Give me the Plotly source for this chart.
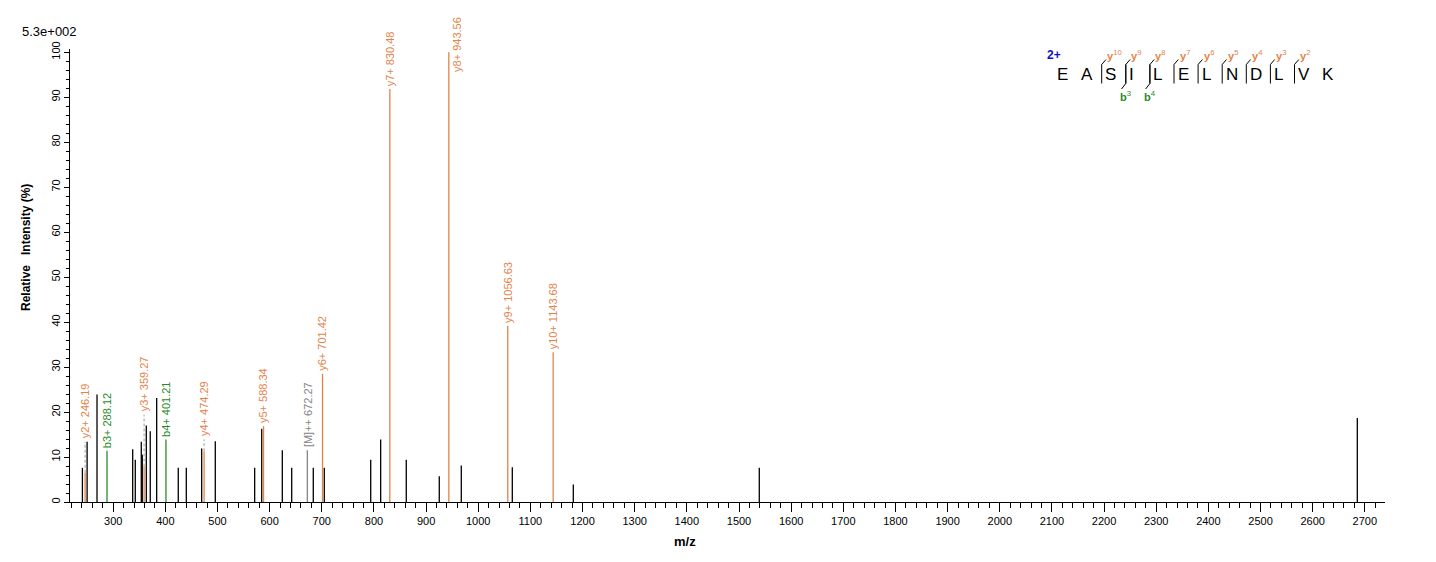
import plotly.graph_objects as go

# ---------------- data ----------------
# unannotated peaks (black)
other_mz = [241.0, 250.0, 269.0, 337.4, 342.4, 353.9, 355.8, 363.5, 371.1, 383.4,
            424.8, 440.2, 469.7, 495.8, 571.3, 584.8, 624.3, 642.3, 683.7, 704.8,
            793.8, 812.9, 862.0, 925.3, 967.5, 1065.3, 1182.3, 1538.9, 2685.6]
other_int = [7.6, 13.4, 23.9, 11.7, 9.4, 13.4, 10.5, 17.0, 15.7, 23.1,
             7.6, 7.6, 11.9, 13.5, 7.6, 16.3, 11.5, 7.6, 7.6, 7.6,
             9.4, 13.9, 9.4, 5.7, 8.1, 7.7, 3.9, 7.6, 18.7]

# annotated fragment ions
ion_names = ["y2+", "b3+", "y3+", "b4+", "y4+", "y5+", "[M]++", "y6+", "y7+", "y8+", "y9+", "y10+"]
ion_mz = [246.19, 288.12, 359.27, 401.21, 474.29, 588.34, 672.27, 701.42, 830.48, 943.56, 1056.63, 1143.68]
ion_int = [6.5, 11.4, 7.9, 13.9, 11.3, 16.9, 11.5, 28.5, 91.8, 100.0, 39.2, 33.3]
ion_kind = ["y", "b", "y", "b", "y", "y", "M", "y", "y", "y", "y", "y"]

# peptide sequence and matched ions
peptide = list("EASILELNDLVK")
charge = "2+"
y_ions = [10, 9, 8, 7, 6, 5, 4, 3, 2]
b_ions = [3, 4]

scale_text = "5.3e+002"
x_title = "m/z"
y_title = "Relative   Intensity (%)"

# ---------------- style / layout ----------------
COL = {"y": "#E3834C", "b": "#2A8A2A", "M": "#858585", "other": "#000000"}
FONT = "Liberation Sans, Arial, sans-serif"
OFF = 8  # page body margin
W, H = 1436 - OFF, 562 - OFF
ML, MR, MT, MB = 70 - OFF, 51, 49 - OFF, 60
X_RANGE = [217.2, 2738.7]
Y_RANGE = [0, 100.7]
# label placement (level in % where label starts when raised above neighbours)
label_level = {"y2+": 13.4, "y3+": 19.4, "y4+": 13.9}
beside_label = {"y8+": 95.0}

pw = W - ML - MR
ph = H - MT - MB


def px_x(px):
    return (px - OFF - ML) / pw


def px_y(py):
    return (H + OFF - MB - py) / ph


def stems(xs, ys):
    X, Y = [], []
    for x, y in zip(xs, ys):
        X += [x, x, None]
        Y += [0, y, None]
    return X, Y


fig = go.Figure()

sx, sy = stems(other_mz, other_int)
fig.add_trace(go.Scatter(x=sx, y=sy, mode="lines", line=dict(color=COL["other"], width=1.3),
                         hoverinfo="skip", showlegend=False))
for kind in ["y", "b", "M"]:
    xs = [m for m, k in zip(ion_mz, ion_kind) if k == kind]
    ys = [i for i, k in zip(ion_int, ion_kind) if k == kind]
    sx, sy = stems(xs, ys)
    fig.add_trace(go.Scatter(x=sx, y=sy, mode="lines", line=dict(color=COL[kind], width=1.3),
                             hoverinfo="skip", showlegend=False))

# dashed connectors for raised labels
cx, cy = [], []
for name, mz, it in zip(ion_names, ion_mz, ion_int):
    if name in label_level:
        cx += [mz, mz, None]
        cy += [it, label_level[name], None]
fig.add_trace(go.Scatter(x=cx, y=cy, mode="lines", line=dict(color="#A0A0A0", width=1, dash="3px,2px"),
                         hoverinfo="skip", showlegend=False))

annotations = []
for name, mz, it, kind in zip(ion_names, ion_mz, ion_int, ion_kind):
    text = f"{name} {mz:.2f}"
    if name in beside_label:
        y, xs = beside_label[name], 8
    else:
        y, xs = label_level.get(name, it), 0
    annotations.append(dict(x=mz, y=y, xref="x", yref="y", text=text, showarrow=False,
                            textangle=-90, xanchor="center", yanchor="bottom", xshift=xs, yshift=1,
                            font=dict(family=FONT, size=11, color=COL[kind])))

# scale label and titles
annotations.append(dict(x=px_x(20), y=px_y(31), xref="paper", yref="paper", text=scale_text,
                        showarrow=False, xanchor="left", yanchor="middle",
                        font=dict(family=FONT, size=13, color="#000")))
annotations.append(dict(x=px_x(26), y=px_y(248), xref="paper", yref="paper", text=f"<b>{y_title}</b>",
                        showarrow=False, textangle=-90, xanchor="center", yanchor="middle",
                        font=dict(family=FONT, size=12, color="#000")))
annotations.append(dict(x=px_x(685), y=px_y(541), xref="paper", yref="paper", text=f"<b>{x_title}</b>",
                        showarrow=False, xanchor="center", yanchor="middle",
                        font=dict(family=FONT, size=13, color="#000")))

# peptide sequence diagram
BX0, BDX = 1053.5, 24.1
n = len(peptide)


def bx(k):
    return BX0 + BDX * k


annotations.append(dict(x=px_x(1045), y=px_y(55), xref="paper", yref="paper", text=f"<b>{charge}</b>",
                        showarrow=False, xanchor="left", yanchor="middle",
                        font=dict(family=FONT, size=12, color="#1010C0")))
for i, aa in enumerate(peptide):
    annotations.append(dict(x=px_x(bx(i) + 1.5), y=px_y(75), xref="paper", yref="paper", text=aa,
                            showarrow=False, xanchor="left", yanchor="middle",
                            font=dict(family=FONT, size=17, color="#000")))

shapes = []
for yi in y_ions:
    k = n - yi
    x0 = bx(k)
    shapes.append(dict(type="line", xref="paper", yref="paper", x0=px_x(x0), x1=px_x(x0),
                       y0=px_y(64.5), y1=px_y(83.5), line=dict(color="#000", width=1)))
    shapes.append(dict(type="line", xref="paper", yref="paper", x0=px_x(x0), x1=px_x(x0 + 4.3),
                       y0=px_y(64.5), y1=px_y(59.5), line=dict(color="#000", width=1)))
    annotations.append(dict(x=px_x(x0 + 3.5), y=px_y(55), xref="paper", yref="paper",
                            text=f"<b>y</b><sup>{yi}</sup>", showarrow=False, xanchor="left",
                            yanchor="middle", font=dict(family=FONT, size=11, color=COL["y"])))
for bi in b_ions:
    x0 = bx(bi)
    shapes.append(dict(type="line", xref="paper", yref="paper", x0=px_x(x0), x1=px_x(x0),
                       y0=px_y(64.5), y1=px_y(83.5), line=dict(color="#000", width=1)))
    shapes.append(dict(type="line", xref="paper", yref="paper", x0=px_x(x0), x1=px_x(x0 - 4.3),
                       y0=px_y(83.5), y1=px_y(89), line=dict(color="#000", width=1)))
    annotations.append(dict(x=px_x(x0 - 8), y=px_y(96), xref="paper", yref="paper",
                            text=f"<b>b</b><sup>{bi}</sup>", showarrow=False, xanchor="left",
                            yanchor="middle", font=dict(family=FONT, size=11, color=COL["b"])))

fig.update_layout(
    width=W, height=H,
    margin=dict(l=ML, r=MR, t=MT, b=MB),
    paper_bgcolor="white", plot_bgcolor="white",
    font=dict(family=FONT, size=11, color="#000"),
    annotations=annotations, shapes=shapes,
    showlegend=False,
)
fig.update_xaxes(range=X_RANGE, showgrid=False, zeroline=False, showline=True, linecolor="#000",
                 linewidth=1, ticks="outside", ticklen=9, tickcolor="#000", tick0=0, dtick=100,
                 minor=dict(dtick=20, ticks="outside", ticklen=5, tickcolor="#000"),
                 tickfont=dict(family=FONT, size=11, color="#000"))
fig.update_yaxes(range=Y_RANGE, showgrid=False, zeroline=False, showline=True, linecolor="#000",
                 linewidth=1, ticks="outside", ticklen=5, tickcolor="#000", tick0=0, dtick=10,
                 tickangle=-90,
                 minor=dict(dtick=2, ticks="outside", ticklen=3, tickcolor="#000"),
                 tickfont=dict(family=FONT, size=11, color="#000"))

fig.write_html("out.html")
